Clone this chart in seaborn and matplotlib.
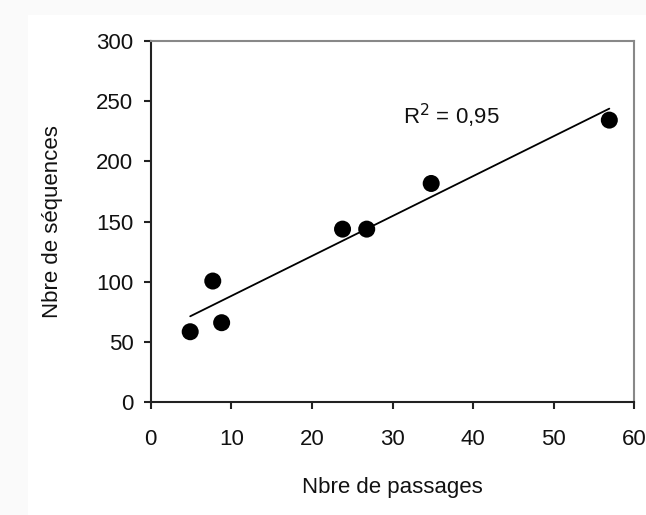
import numpy as np
import pandas as pd
import matplotlib
matplotlib.use("Agg")
import matplotlib.pyplot as plt
from matplotlib.patches import Rectangle
import seaborn as sns

# Number of passages vs number of sequences
passages = [4.9, 7.7, 8.8, 23.8, 26.8, 34.8, 56.9]
sequences = [58.6, 100.7, 66.1, 143.8, 143.8, 181.7, 234.3]
x_ticks = [0, 10, 20, 30, 40, 50, 60]
y_ticks = [0, 50, 100, 150, 200, 250, 300]

df = pd.DataFrame({"passages": passages, "sequences": sequences})

sns.set_theme(style="white")
plt.rcParams["font.family"] = ["Liberation Sans", "DejaVu Sans"]
FS = 16

fig = plt.figure(figsize=(6.46, 5.15), dpi=100, facecolor="#fafafa")
fig.patches.append(Rectangle((28 / 646, 0), 1, 1 - 15 / 515, transform=fig.transFigure,
                             facecolor="white", edgecolor="none", zorder=-5))
ax = fig.add_axes([0.2333, 0.2188, 0.7486, 0.7016])
ax.set_zorder(5)
ax.set_facecolor("white")

sns.regplot(data=df, x="passages", y="sequences", ax=ax, ci=None, truncate=True,
            scatter_kws=dict(s=150, color="black", alpha=1, edgecolor="none", zorder=3),
            line_kws=dict(color="black", lw=1.3, zorder=2))

# coefficient of determination of the linear fit
slope, intercept = np.polyfit(passages, sequences, 1)
pred = slope * np.array(passages) + intercept
r2 = 1 - np.sum((np.array(sequences) - pred) ** 2) / np.sum((np.array(sequences) - np.mean(sequences)) ** 2)
ax.text(31.3, 238, "R$^2$ = " + f"{r2:.2f}".replace(".", ","), fontsize=FS, ha="left",
        va="center", color="#111111")

ax.set_xlim(0, 60)
ax.set_ylim(0, 300)
ax.set_xticks(x_ticks)
ax.set_yticks(y_ticks)
ax.tick_params(axis="both", which="major", direction="out", length=5, width=1.5,
               color="#222222", labelsize=FS, labelcolor="#111111", bottom=True, left=True)
ax.tick_params(axis="x", pad=14)
ax.tick_params(axis="y", pad=7.5)
for side in ["left", "bottom"]:
    ax.spines[side].set_color("#222222")
    ax.spines[side].set_linewidth(1.5)
for side in ["top", "right"]:
    ax.spines[side].set_color("#888888")
    ax.spines[side].set_linewidth(1.5)

ax.set_xlabel("Nbre de passages", fontsize=FS, color="#111111", labelpad=20)
ax.set_ylabel("Nbre de séquences", fontsize=FS, color="#111111", labelpad=24)

fig.savefig("out.png", dpi=100, facecolor=fig.get_facecolor())
